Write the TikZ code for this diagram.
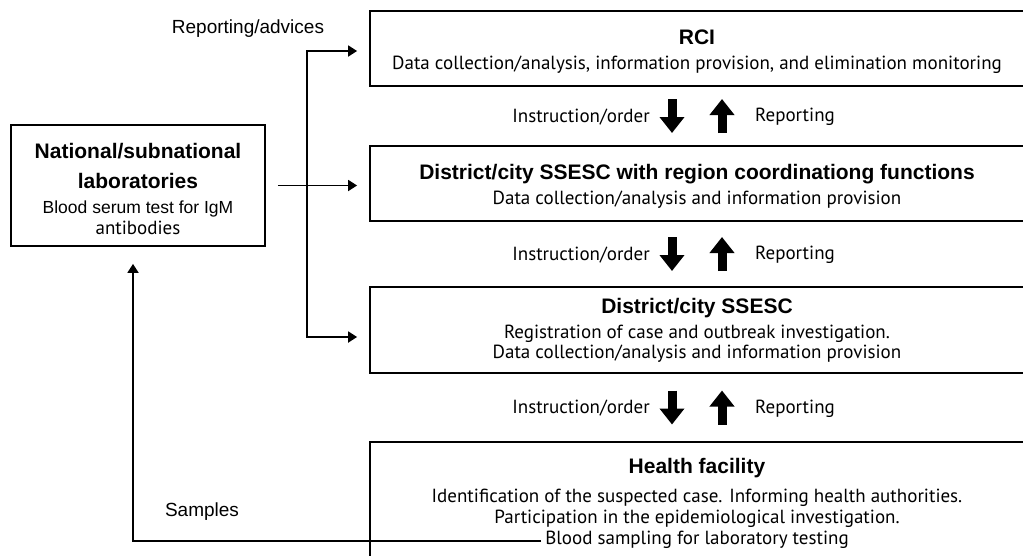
\documentclass[tikz,border=0pt]{standalone}
\usepackage{fontspec}
\setmainfont{Liberation Sans}
\newfontfamily\bodyfont{PT Sans}
\usetikzlibrary{arrows.meta,calc}
\newcommand{\ttl}[1]{{\rmfamily\bfseries\fontsize{21}{21}\selectfont #1}}
\newcommand{\lift}{\rule{0pt}{21.6pt}}

\begin{document}
\begin{tikzpicture}[x=1pt,y=-1pt,
  box/.style={draw,line width=1.8pt,align=center,inner sep=0pt,
    font=\bodyfont\fontsize{19}{21}\selectfont},
  link/.style={line width=1.8pt,-{Triangle[length=9pt,width=11pt]}},
  twoway/.style={line width=1.8pt,{Triangle[length=9pt,width=11pt]}-{Triangle[length=9pt,width=11pt]}},
  fat/.style={line width=9pt,-{Triangle[length=16pt,width=24pt]}},
  lbl/.style={font=\bodyfont\fontsize{19}{21}\selectfont,inner sep=0pt}]
\clip (0,0) rectangle (1023,555);
% boxes
\node[box,minimum width=254pt,minimum height=121pt] (lab) at (138,185.5)
  {\ttl{\lift National/subnational}\\[9pt]\ttl{laboratories}\\[4pt]
   \rmfamily\fontsize{17.5}{21}\selectfont Blood serum test for IgM\\antibodies};
\node[box,minimum width=654pt,minimum height=75pt] (rci) at (697,48.5)
  {\ttl{\lift RCI}\\[4pt]Data collection/analysis, information provision, and elimination monitoring};
\node[box,minimum width=654pt,minimum height=75pt] (region) at (697,183.5)
  {\ttl{\lift District/city SSESC with region coordinationg functions}\\[4pt]Data collection/analysis and information provision};
\node[box,minimum width=654pt,minimum height=86pt] (ssesc) at (697,330)
  {\ttl{District/city SSESC}\\[4pt]Registration of case and outbreak investigation.\\[-1pt]
   Data collection/analysis and information provision};
\node[box,minimum width=654pt,minimum height=123pt] (health) at (697,503.5)
  {\ttl{Health facility}\\[8pt]Identification of the suspected case. Informing health authorities.\\
   Participation in the epidemiological investigation.\\
   Blood sampling for laboratory testing};
% instruction / reporting rows
\foreach \a/\b/\n in {rci/region/1,region/ssesc/2,ssesc/health/3}{
  \coordinate (m\n) at ($(\a.south)!.5!(\b.north)$);
  \draw[fat] ($(m\n)+(-25,-17)$) -- ($(m\n)+(-25,17)$);
  \draw[fat] ($(m\n)+(25,17)$) -- ($(m\n)+(25,-17)$);
  \node[lbl,anchor=east] (ins\n) at ($(m\n)+(-47,1)$) {Instruction/order};
  \node[lbl,anchor=west] (rep\n) at ($(m\n)+(58,1)$) {Reporting};
}
% lab connections
\coordinate (rt) at (307,51);
\coordinate (rb) at (307,337);
\coordinate (bl) at (541,541);
\coordinate (sc) at (133,541);
\draw[link] ([xshift=12pt]lab.east) -- ([xshift=-12pt]lab.east -| region.west);
\draw[twoway] ([xshift=-12pt]rt -| rci.west) -- (rt) -- (rb) -- ([xshift=-12pt]rb -| ssesc.west);
\draw[link,shorten >=17pt] (bl) -- (sc) -- (sc |- lab.south);
\node[lbl] (adv) at (248,29) {\rmfamily\fontsize{19}{21}\selectfont Reporting/advices};
\node[lbl] (smp) at (202,512) {\rmfamily\fontsize{19}{21}\selectfont Samples};
\end{tikzpicture}
\end{document}
